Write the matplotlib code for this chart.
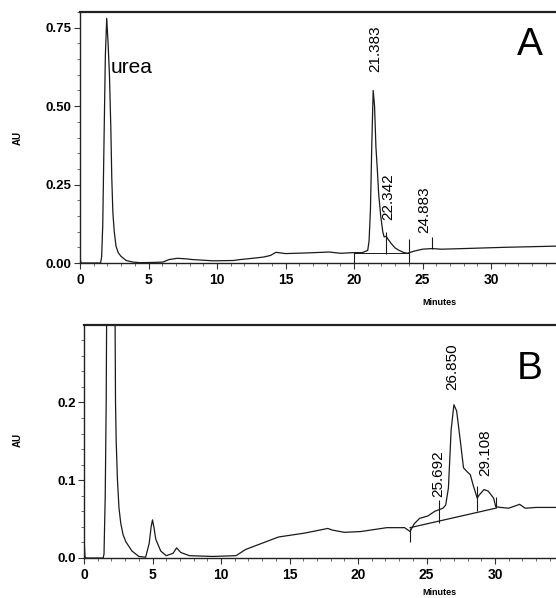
import matplotlib
matplotlib.use("Agg")
import matplotlib.pyplot as plt
from matplotlib.ticker import MultipleLocator, FormatStrFormatter

plt.rcParams['font.family'] = ['Liberation Sans', 'DejaVu Sans']

# ---- Trace A (minutes, AU) ----
a_time = [0.0, 0.02, 0.06, 0.1, 1.5, 1.58, 1.66, 1.75, 1.85, 1.95, 2.05, 2.15, 2.25, 2.32,
          2.4, 2.5, 2.63, 2.8, 3.0, 3.37, 3.85, 4.4, 5.5, 6.05, 6.5, 7.1, 7.8, 8.2, 9.7,
          11.2, 11.7, 12.6, 13.4, 13.9, 14.3, 15.0, 16.5, 18.2, 19.0, 20.0, 20.6, 21.0,
          21.1, 21.2, 21.3, 21.4, 21.5, 21.6, 21.7, 21.8, 21.95, 22.1, 22.2, 22.35, 22.5,
          22.7, 23.0, 23.3, 23.6, 23.9, 24.4, 25.0, 25.7, 26.4, 28.0, 31.0, 33.0, 35.0]
a_au = [0.0, 0.012, 0.003, 0.0, 0.0, 0.02, 0.12, 0.38, 0.66, 0.78, 0.70, 0.60, 0.43, 0.27,
        0.16, 0.10, 0.053, 0.032, 0.021, 0.008, 0.003, 0.001, 0.002, 0.003, 0.011, 0.015,
        0.013, 0.011, 0.007, 0.008, 0.011, 0.015, 0.019, 0.024, 0.034, 0.030, 0.032, 0.035,
        0.031, 0.033, 0.033, 0.04, 0.07, 0.17, 0.38, 0.55, 0.50, 0.37, 0.30, 0.22, 0.15,
        0.10, 0.083, 0.085, 0.075, 0.063, 0.048, 0.040, 0.034, 0.031, 0.038, 0.044, 0.046,
        0.044, 0.046, 0.050, 0.052, 0.054]

# Integration markers of trace A
a_mark_x = [20.0, 22.3, 24.0, 25.7]
a_mark_lo = [0.0, 0.03, 0.0, 0.046]
a_mark_hi = [0.033, 0.10, 0.075, 0.083]
a_base_x = [20.0, 24.0]
a_base_y = [0.032, 0.032]

a_peak_labels = ["21.383", "22.342", "24.883"]
a_label_x = [21.55, 22.5, 25.1]
a_label_y = [0.683, 0.21, 0.17]

# ---- Trace B ----
b_time = [0.0, 0.02, 0.06, 0.1, 1.4, 1.46, 1.55, 1.62, 1.68, 1.9, 2.2, 2.27, 2.3, 2.35,
          2.44, 2.55, 2.68, 2.85, 3.05, 3.5, 4.0, 4.5, 4.76, 4.9, 5.0, 5.1, 5.24, 5.6,
          6.0, 6.5, 6.76, 7.07, 7.7, 9.4, 11.1, 11.8, 13.0, 14.2, 16.1, 17.8, 18.1, 19.0,
          20.2, 22.1, 23.4, 23.8, 24.1, 24.5, 25.1, 25.6, 25.9, 26.2, 26.4, 26.6, 26.8,
          27.0, 27.2, 27.5, 27.7, 27.96, 28.2, 28.4, 28.7, 28.85, 29.2, 29.5, 29.9, 30.05,
          30.4, 31.0, 31.8, 32.2, 33.0, 34.5]
b_au = [0.0, 0.021, 0.004, 0.0, 0.0, 0.005, 0.08, 0.2, 0.4, 0.8, 0.45, 0.3, 0.2, 0.15,
        0.101, 0.065, 0.045, 0.030, 0.021, 0.009, 0.002, 0.001, 0.019, 0.04, 0.049, 0.04,
        0.024, 0.009, 0.003, 0.006, 0.013, 0.007, 0.003, 0.002, 0.003, 0.011, 0.019, 0.027,
        0.032, 0.038, 0.036, 0.033, 0.034, 0.039, 0.039, 0.034, 0.044, 0.051, 0.054, 0.060,
        0.062, 0.064, 0.068, 0.090, 0.165, 0.197, 0.189, 0.146, 0.116, 0.111, 0.107, 0.094,
        0.077, 0.081, 0.088, 0.086, 0.077, 0.066, 0.065, 0.064, 0.069, 0.064, 0.065, 0.065]

b_mark_x = [23.8, 25.9, 28.7, 30.05]
b_mark_lo = [0.021, 0.045, 0.060, 0.064]
b_mark_hi = [0.039, 0.075, 0.092, 0.079]
b_base_x = [23.8, 30.05]
b_base_y = [0.039, 0.064]

b_peak_labels = ["26.850", "25.692", "29.108"]
b_label_x = [26.9, 25.85, 29.3]
b_label_y = [0.246, 0.108, 0.135]

W, H = 556, 598
fig = plt.figure(figsize=(W / 100, H / 100), dpi=100)

def px_axes(left, top, bottom, right=W):
    return fig.add_axes([left / W, 1 - bottom / H, (right - left) / W, (bottom - top) / H])

axA = px_axes(80, 12, 263)
axB = px_axes(84, 325, 558)

line_col = '#1a1a1a'

def style(ax, ymax, ymajor, yminor, yfmt, xmax):
    ax.set_xlim(0, xmax)
    ax.set_ylim(0, ymax)
    ax.spines['right'].set_visible(False)
    ax.spines['top'].set_linewidth(1.6)
    ax.spines['left'].set_linewidth(1.0)
    ax.spines['bottom'].set_linewidth(1.0)
    for s in ax.spines.values():
        s.set_color('#222222')
    ax.xaxis.set_major_locator(MultipleLocator(5))
    ax.xaxis.set_minor_locator(MultipleLocator(1))
    ax.yaxis.set_major_locator(MultipleLocator(ymajor))
    ax.yaxis.set_minor_locator(MultipleLocator(yminor))
    ax.yaxis.set_major_formatter(FormatStrFormatter(yfmt))
    ax.tick_params(which='major', length=4, width=0.8, color='#333333')
    ax.tick_params(which='minor', length=2, width=0.6, color='#555555')
    ax.tick_params(axis='y', labelsize=9.5, pad=2)
    ax.tick_params(axis='x', labelsize=10, pad=3)
    for lab in ax.get_xticklabels() + ax.get_yticklabels():
        lab.set_fontweight('bold')
    ax.set_xlabel('Minutes', fontsize=6.5, fontweight='bold')
    ax.set_ylabel('AU', fontsize=7, fontweight='bold')

style(axA, 0.80, 0.25, 0.05, '%.2f', (W - 80) / 13.7)
style(axB, 0.2995, 0.1, 0.02, '%.1f', (W - 84) / 13.7)

axA.xaxis.set_label_coords(0.756, -0.139)
axA.yaxis.set_label_coords(-0.12, 0.50)
axB.xaxis.set_label_coords(0.754, -0.129)
axB.yaxis.set_label_coords(-0.129, 0.506)

# traces
axA.plot(a_time, a_au, color=line_col, lw=0.9)
axB.plot(b_time, b_au, color=line_col, lw=0.9)

# integration markers
axA.vlines(a_mark_x, a_mark_lo, a_mark_hi, color=line_col, lw=0.8)
axA.plot(a_base_x, a_base_y, color=line_col, lw=0.7)
axB.vlines(b_mark_x, b_mark_lo, b_mark_hi, color=line_col, lw=0.8)
axB.plot(b_base_x, b_base_y, color=line_col, lw=0.9)

# peak labels
for t, x, y in zip(a_peak_labels, a_label_x, a_label_y):
    axA.text(x, y, t, rotation=90, ha='center', va='center', fontsize=11)
for t, x, y in zip(b_peak_labels, b_label_x, b_label_y):
    axB.text(x, y, t, rotation=90, ha='center', va='center', fontsize=11)

axA.text(2.2, 0.623, 'urea', ha='left', va='center', fontsize=15)
axA.text(32.8, 0.696, 'A', ha='center', va='center', fontsize=28)
axB.text(32.5, 0.243, 'B', ha='center', va='center', fontsize=28)

fig.savefig('out.png', dpi=100)
